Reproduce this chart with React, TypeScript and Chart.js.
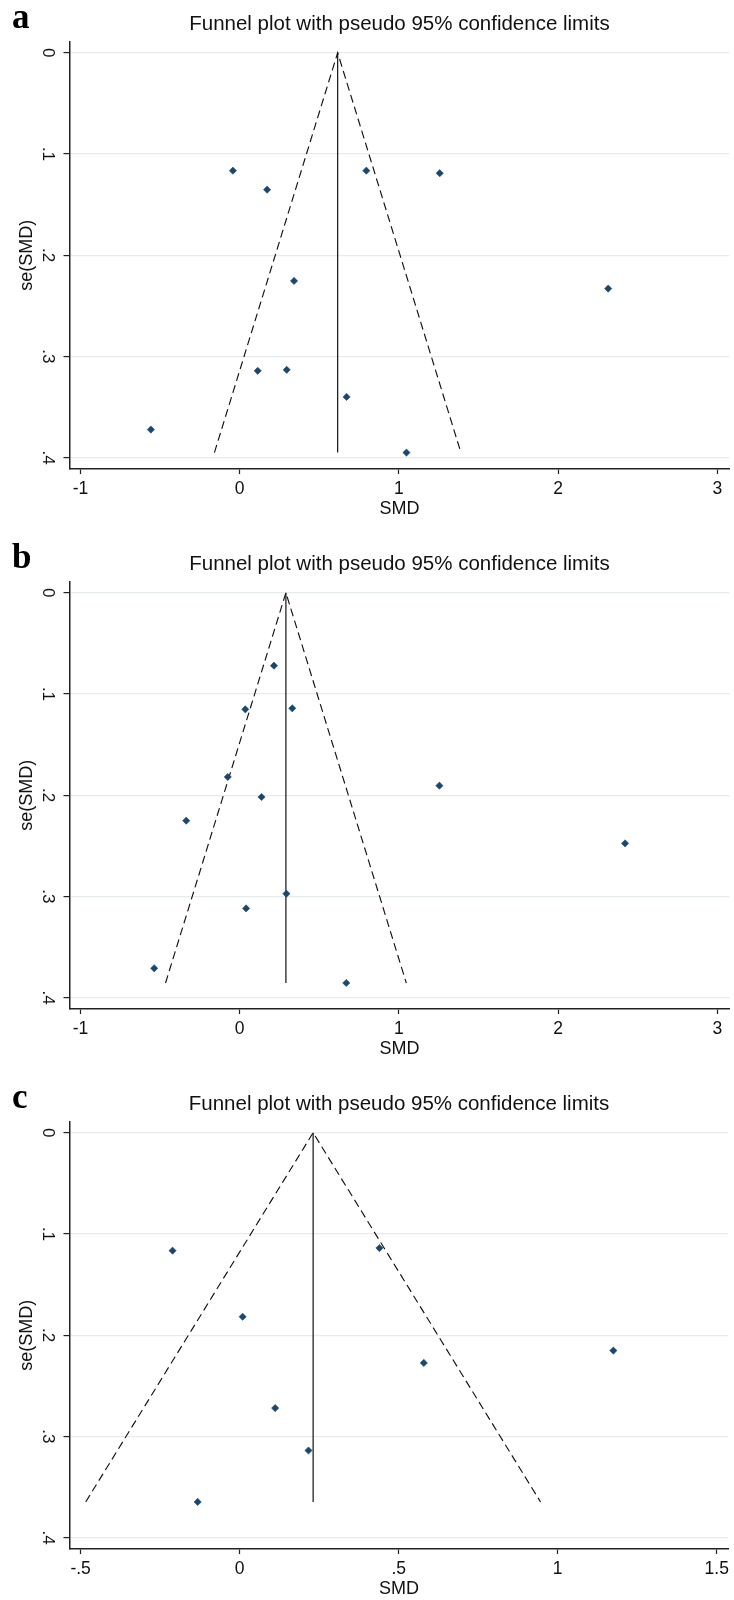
import React, { useEffect, useRef } from "react";
import { Chart, registerables } from "chart.js";

Chart.register(...registerables);

// ---------- text ----------
const chartTitle = "Funnel plot with pseudo 95% confidence limits";
const xAxisTitle = "SMD";
const yAxisTitle = "se(SMD)";

// ---------- ticks ----------
const yTickValues = [0, 0.1, 0.2, 0.3, 0.4];
const yTickLabels = ["0", ".1", ".2", ".3", ".4"];
const xTickValuesAB = [-1, 0, 1, 2, 3];
const xTickLabelsAB = ["-1", "0", "1", "2", "3"];
const xTickValuesC = [-0.5, 0, 0.5, 1, 1.5];
const xTickLabelsC = ["-.5", "0", ".5", "1", "1.5"];

// ---------- panel a ----------
const smdA = [-0.043, 0.172, 0.795, 1.256, 0.341, 2.314, 0.113, 0.295, 0.671, -0.558, 1.047];
const seA = [0.1165, 0.1353, 0.1165, 0.119, 0.2254, 0.233, 0.3142, 0.3132, 0.34, 0.3723, 0.395];
const funnelXA = [-0.159, 0.615, 1.389];
const funnelSeA = [0.395, 0, 0.395];
const centerXA = [0.615, 0.615];
const centerSeA = [0, 0.395];

// ---------- panel b ----------
const smdB = [0.215, 0.035, 0.33, -0.075, 0.137, 1.254, -0.336, 2.42, 0.293, 0.04, -0.537, 0.669];
const seB = [0.0721, 0.1152, 0.1142, 0.182, 0.2018, 0.1906, 0.2252, 0.2476, 0.2973, 0.3118, 0.371, 0.3855];
const funnelXB = [-0.466, 0.29, 1.046];
const funnelSeB = [0.3855, 0, 0.3855];
const centerXB = [0.29, 0.29];
const centerSeB = [0, 0.3855];

// ---------- panel c ----------
const smdC = [-0.211, 0.4395, 0.0094, 0.579, 1.175, 0.1116, 0.2164, -0.132];
const seC = [0.1165, 0.1139, 0.1818, 0.2274, 0.2152, 0.272, 0.3139, 0.3647];
const funnelXC = [-0.484, 0.231, 0.946];
const funnelSeC = [0.3647, 0, 0.3647];
const centerXC = [0.231, 0.231];
const centerSeC = [0, 0.3647];

// ---------- styles ----------
const SANS = "'Liberation Sans', Arial, Helvetica, sans-serif";
const SERIF = "'Liberation Serif', 'Times New Roman', serif";
const NAVY = "#1a476f";
const INK = "#111111";
const AXIS = "#222222";
const GRID = "#e6ecee";
const CANVAS_W = 734;
const CANVAS_H = 520;

type PanelProps = {
  letter: string;
  top: number;
  smd: number[];
  se: number[];
  funnelX: number[];
  funnelSe: number[];
  centerX: number[];
  centerSe: number[];
  xTicks: number[];
  xLabels: string[];
  xMin: number;
  xMax: number;
};

function labelFor(values: number[], labels: string[], v: number) {
  const i = values.findIndex((t) => Math.abs(t - v) < 1e-9);
  return i >= 0 ? labels[i] : "";
}

function Panel(props: PanelProps) {
  const ref = useRef<HTMLCanvasElement | null>(null);
  useEffect(() => {
    const p = props;
    const letterPlugin = {
      id: "panelLetter",
      afterDraw(chart: any) {
        const ctx = chart.ctx;
        ctx.save();
        ctx.font = `bold 35px ${SERIF}`;
        ctx.fillStyle = "#000";
        ctx.textAlign = "left";
        ctx.textBaseline = "alphabetic";
        ctx.fillText(p.letter, 12, 28);
        ctx.restore();
      },
    };
    const chart = new Chart(ref.current as HTMLCanvasElement, {
      type: "scatter",
      data: {
        datasets: [
          {
            data: p.smd.map((x, i) => ({ x, y: p.se[i] })),
            pointStyle: "rectRot",
            pointRadius: 3.6,
            pointBackgroundColor: NAVY,
            pointBorderColor: NAVY,
            pointBorderWidth: 0.6,
            showLine: false,
            clip: false,
          } as any,
          {
            data: p.centerX.map((x, i) => ({ x, y: p.centerSe[i] })),
            showLine: true,
            borderColor: INK,
            borderWidth: 1.2,
            pointRadius: 0,
            fill: false,
          } as any,
          {
            data: p.funnelX.map((x, i) => ({ x, y: p.funnelSe[i] })),
            showLine: true,
            borderColor: INK,
            borderWidth: 1.15,
            borderDash: [8, 4.5],
            pointRadius: 0,
            fill: false,
          } as any,
        ],
      },
      options: {
        responsive: false,
        animation: false,
        events: [],
        layout: { padding: { left: 0, right: 1, top: 0, bottom: 0 } },
        plugins: {
          legend: { display: false },
          tooltip: { enabled: false },
          title: {
            display: true,
            text: chartTitle,
            fullSize: false,
            color: INK,
            font: { family: SANS, size: 20.5, weight: "normal" },
            padding: { top: 11.7, bottom: 5.4 },
          },
        },
        scales: {
          x: {
            type: "linear",
            position: "bottom",
            min: p.xMin,
            max: p.xMax,
            afterBuildTicks: (s: any) => {
              s.ticks = p.xTicks.map((v) => ({ value: v }));
            },
            afterFit: (s: any) => {
              s.height = 51;
            },
            ticks: {
              callback: (v: any) => labelFor(p.xTicks, p.xLabels, Number(v)),
              font: { family: SANS, size: 17.5 },
              color: INK,
              padding: 5,
              maxRotation: 0,
              autoSkip: false,
            },
            grid: {
              drawOnChartArea: false,
              drawTicks: true,
              tickLength: 5,
              tickColor: AXIS,
              tickWidth: 1.2,
            },
            border: { display: true, color: AXIS, width: 1.5 },
            title: {
              display: true,
              text: xAxisTitle,
              color: INK,
              font: { family: SANS, size: 18 },
              padding: { top: 0, bottom: 0 },
            },
          },
          y: {
            type: "linear",
            position: "left",
            reverse: true,
            min: -0.0109,
            max: 0.4112,
            afterBuildTicks: (s: any) => {
              s.ticks = yTickValues.map((v) => ({ value: v }));
            },
            afterFit: (s: any) => {
              s.width = 69.5;
            },
            ticks: {
              callback: (v: any) => labelFor(yTickValues, yTickLabels, Number(v)),
              font: { family: SANS, size: 17 },
              color: INK,
              padding: 8.6,
              minRotation: -90,
              maxRotation: -90,
              crossAlign: "center",
              autoSkip: false,
            },
            grid: {
              color: GRID,
              lineWidth: 1.2,
              drawTicks: true,
              tickLength: 6,
              tickColor: AXIS,
              tickWidth: 1.2,
            },
            border: { display: true, color: AXIS, width: 1.5 },
            title: {
              display: true,
              text: yAxisTitle,
              color: INK,
              font: { family: SANS, size: 18 },
              padding: { top: 16, bottom: 0 },
            },
          },
        },
      } as any,
      plugins: [letterPlugin],
    });
    return () => chart.destroy();
  }, []);
  return (
    <canvas
      ref={ref}
      width={CANVAS_W}
      height={CANVAS_H}
      style={{ position: "absolute", left: 0, top: props.top, width: CANVAS_W, height: CANVAS_H }}
    />
  );
}

export default function App() {
  return (
    <div style={{ position: "absolute", left: 0, top: 0, width: CANVAS_W, height: 1600, background: "#fff", overflow: "hidden" }}>
      <Panel letter="a" top={0} smd={smdA} se={seA} funnelX={funnelXA} funnelSe={funnelSeA}
        centerX={centerXA} centerSe={centerSeA} xTicks={xTickValuesAB} xLabels={xTickLabelsAB} xMin={-1.069} xMax={3.075} />
      <Panel letter="b" top={540} smd={smdB} se={seB} funnelX={funnelXB} funnelSe={funnelSeB}
        centerX={centerXB} centerSe={centerSeB} xTicks={xTickValuesAB} xLabels={xTickLabelsAB} xMin={-1.069} xMax={3.075} />
      <Panel letter="c" top={1080} smd={smdC} se={seC} funnelX={funnelXC} funnelSe={funnelSeC}
        centerX={centerXC} centerSe={centerSeC} xTicks={xTickValuesC} xLabels={xTickLabelsC} xMin={-0.535} xMax={1.537} />
    </div>
  );
}
